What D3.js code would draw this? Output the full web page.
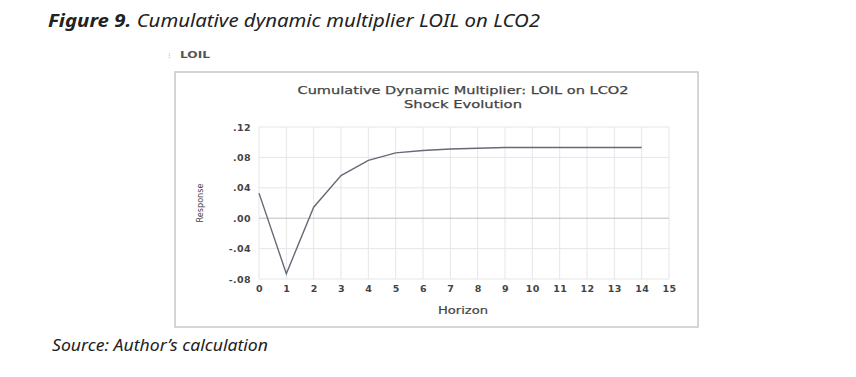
<!DOCTYPE html>
<html>
<head>
<meta charset="utf-8">
<script src="https://cdn.jsdelivr.net/npm/d3@7"></script>
<style>
  body { margin: 0; background: #fff; }
  svg { display: block; }
</style>
</head>
<body>
<svg id="chart" width="856" height="377"></svg>
<script>
// horizon steps and cumulative response values
const horizons = [0, 1, 2, 3, 4, 5, 6, 7, 8, 9, 10, 11, 12, 13, 14];
const responses = [0.033, -0.073, 0.0145, 0.056, 0.076, 0.086, 0.089, 0.091, 0.092, 0.093, 0.093, 0.093, 0.093, 0.093, 0.093];
const xTicks = [0, 1, 2, 3, 4, 5, 6, 7, 8, 9, 10, 11, 12, 13, 14, 15];
const yTicks = [-0.08, -0.04, 0, 0.04, 0.08, 0.12];

const svg = d3.select("#chart");

// figure caption
const cap = svg.append("text")
    .attr("x", 48).attr("y", 27)
    .attr("font-family", "Noto Sans, sans-serif")
    .attr("font-size", 18)
    .attr("font-style", "italic")
    .attr("fill", "#222")
    .attr("textLength", 492)
    .attr("lengthAdjust", "spacingAndGlyphs");
cap.append("tspan").attr("font-weight", "bold").text("Figure 9.");
cap.append("tspan").text(" Cumulative dynamic multiplier LOIL on LCO2");

// little "LOIL" label above the frame
svg.append("text")
    .attr("x", 168).attr("y", 58)
    .attr("font-family", "DejaVu Sans, sans-serif")
    .attr("font-size", 8)
    .attr("fill", "#bbb")
    .text("⁝");
svg.append("text")
    .attr("x", 180).attr("y", 58)
    .attr("font-family", "DejaVu Sans, sans-serif")
    .attr("font-size", 9)
    .attr("font-weight", "bold")
    .attr("fill", "#555")
    .attr("textLength", 30)
    .attr("lengthAdjust", "spacingAndGlyphs")
    .text("LOIL");

// frame
svg.append("rect")
    .attr("x", 175).attr("y", 72)
    .attr("width", 523).attr("height", 255)
    .attr("fill", "#fff")
    .attr("stroke", "#c8c8c8")
    .attr("stroke-width", 1.5);

const x = d3.scaleLinear().domain([0, 15]).range([259, 669]);
const y = d3.scaleLinear().domain([-0.08, 0.12]).range([279, 127]);

const g = svg.append("g");

// gridlines
g.selectAll(".vgrid")
    .data(xTicks)
    .enter().append("line")
    .attr("x1", d => x(d)).attr("x2", d => x(d))
    .attr("y1", y(0.12)).attr("y2", y(-0.08))
    .attr("stroke", "#e6e6e6")
    .attr("stroke-width", 1);

g.selectAll(".hgrid")
    .data(yTicks)
    .enter().append("line")
    .attr("x1", x(0)).attr("x2", x(15))
    .attr("y1", d => y(d)).attr("y2", d => y(d))
    .attr("stroke", d => d === 0 ? "#bdbdbd" : "#e6e6e6")
    .attr("stroke-width", 1);

// axes labels
const fmtY = d => {
    if (d === 0) return ".00";
    const s = d3.format(".2f")(Math.abs(d)).replace(/^0/, "");
    return (d < 0 ? "-" : "") + s;
};

const yAxis = d3.axisLeft(y).tickValues(yTicks).tickFormat(fmtY).tickSize(0).tickPadding(8);
const yg = svg.append("g").attr("transform", `translate(${x(0)},0)`).call(yAxis);
yg.select(".domain").remove();
yg.selectAll("text")
    .attr("font-family", "DejaVu Sans, sans-serif")
    .attr("font-size", 9.5)
    .attr("font-weight", "bold")
    .attr("letter-spacing", 0.4)
    .attr("fill", "#444");

const xAxis = d3.axisBottom(x).tickValues(xTicks).tickFormat(d3.format("d")).tickSize(0).tickPadding(6);
const xg = svg.append("g").attr("transform", `translate(0,${y(-0.08)})`).call(xAxis);
xg.select(".domain").remove();
xg.selectAll("text")
    .attr("font-family", "DejaVu Sans, sans-serif")
    .attr("font-size", 9.5)
    .attr("font-weight", "bold")
    .attr("letter-spacing", 0.4)
    .attr("fill", "#444");

// the response line
const line = d3.line()
    .x((d, i) => x(horizons[i]))
    .y(d => y(d));

svg.append("path")
    .datum(responses)
    .attr("d", line)
    .attr("fill", "none")
    .attr("stroke", "#666a78")
    .attr("stroke-width", 1.4);

// chart titles
svg.append("text")
    .attr("x", 463).attr("y", 94)
    .attr("text-anchor", "middle")
    .attr("font-family", "DejaVu Sans, sans-serif")
    .attr("font-size", 11)
    .attr("fill", "#444")
    .attr("stroke", "#444")
    .attr("stroke-width", 0.25)
    .attr("textLength", 331)
    .attr("lengthAdjust", "spacingAndGlyphs")
    .text("Cumulative Dynamic Multiplier: LOIL on LCO2");
svg.append("text")
    .attr("x", 463).attr("y", 108)
    .attr("text-anchor", "middle")
    .attr("font-family", "DejaVu Sans, sans-serif")
    .attr("font-size", 11)
    .attr("fill", "#444")
    .attr("stroke", "#444")
    .attr("stroke-width", 0.25)
    .attr("textLength", 118)
    .attr("lengthAdjust", "spacingAndGlyphs")
    .text("Shock Evolution");

svg.append("text")
    .attr("x", 463).attr("y", 314)
    .attr("text-anchor", "middle")
    .attr("font-family", "DejaVu Sans, sans-serif")
    .attr("font-size", 10)
    .attr("fill", "#444")
    .attr("stroke", "#444")
    .attr("stroke-width", 0.2)
    .attr("textLength", 50)
    .attr("lengthAdjust", "spacingAndGlyphs")
    .text("Horizon");

svg.append("text")
    .attr("transform", "translate(203,203) rotate(-90)")
    .attr("text-anchor", "middle")
    .attr("font-family", "Liberation Sans Narrow, DejaVu Sans Condensed, sans-serif")
    .attr("font-size", 9)
    .attr("fill", "#444")
    .text("Response");

// source note
svg.append("text")
    .attr("x", 52).attr("y", 351)
    .attr("font-family", "Noto Sans, sans-serif")
    .attr("font-size", 16)
    .attr("font-style", "italic")
    .attr("fill", "#222")
    .attr("textLength", 216)
    .attr("lengthAdjust", "spacingAndGlyphs")
    .text("Source: Author’s calculation");
</script>
</body>
</html>
